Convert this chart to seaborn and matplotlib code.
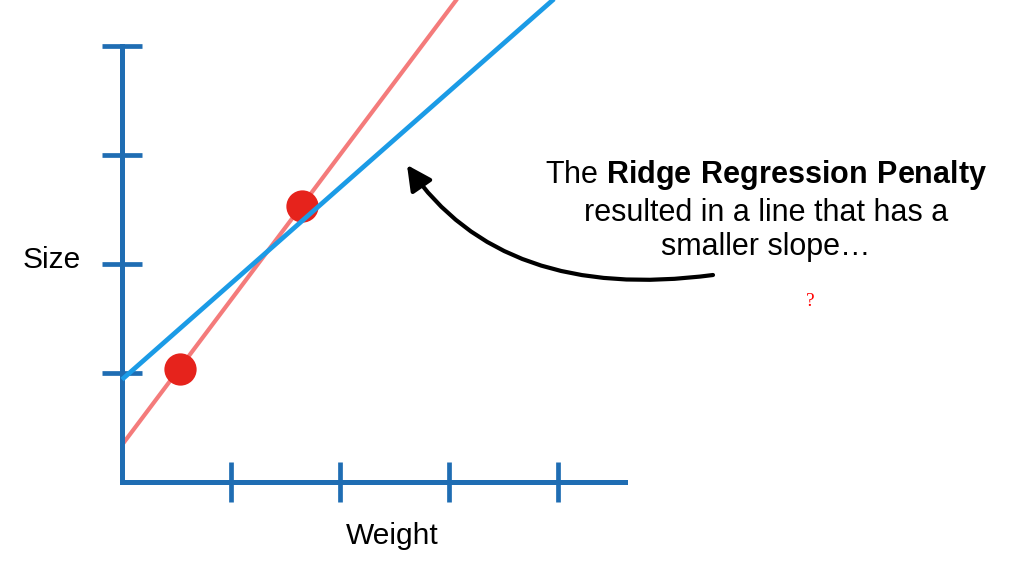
import numpy as np
import pandas as pd
import seaborn as sns
import matplotlib.pyplot as plt
from matplotlib.path import Path
from matplotlib.patches import FancyArrowPatch

# data (1 unit = one tick spacing)
weight_pts = [0.53, 1.65]
size_pts = [1.04, 2.53]
line_weight = [0.0, 4.2]
red_size = [0.34, 5.93]     # least squares line through the two points
blue_size = [0.94, 4.64]    # ridge line, smaller slope
x_ticks = [1, 2, 3, 4]
y_ticks = [1, 2, 3, 4]

axis_col = "#1f6db3"
red_line_col = "#f47b7b"
blue_line_col = "#1b9be6"
dot_col = "#e6231c"

sns.set_style("white")
plt.rcParams['font.family'] = ['Liberation Sans', 'DejaVu Sans']
plt.rcParams['mathtext.fontset'] = 'custom'
plt.rcParams['mathtext.rm'] = 'Liberation Sans'
plt.rcParams['mathtext.bf'] = 'Liberation Sans:bold'

fig = plt.figure(figsize=(10.09, 5.69), dpi=100)
ax = fig.add_axes([122/1009, 87/569, 503/1009, 436/569])

df_red = pd.DataFrame({"Weight": line_weight, "Size": red_size})
df_blue = pd.DataFrame({"Weight": line_weight, "Size": blue_size})
df_pts = pd.DataFrame({"Weight": weight_pts, "Size": size_pts})

sns.lineplot(data=df_red, x="Weight", y="Size", color=red_line_col, lw=3.0,
             clip_on=False, zorder=2, solid_capstyle='butt', ax=ax)
sns.scatterplot(data=df_pts, x="Weight", y="Size", color=dot_col, s=540,
                linewidth=0, clip_on=False, zorder=3, ax=ax)
sns.lineplot(data=df_blue, x="Weight", y="Size", color=blue_line_col, lw=3.4,
             clip_on=False, zorder=4, solid_capstyle='butt', ax=ax)

ax.set_xlim(0, 503/109)
ax.set_ylim(0, 4)
ax.set_xticks(x_ticks)
ax.set_yticks(y_ticks)
ax.set_xticklabels([])
ax.set_yticklabels([])
for s in ["top", "right"]:
    ax.spines[s].set_visible(False)
for s in ["left", "bottom"]:
    ax.spines[s].set_color(axis_col)
    ax.spines[s].set_linewidth(3.6)
ax.tick_params(left=True, bottom=True, direction='inout', length=29, width=3.4,
               color=axis_col)

ax.set_xlabel("Weight", fontsize=21.5, color="black")
ax.xaxis.set_label_coords(0.537, -0.091)
ax.set_ylabel("Size", fontsize=21.5, color="black", rotation=0, ha='center', va='center')
ax.yaxis.set_label_coords(-0.139, 0.51)

# annotation text
fig.text(766/1009, 1 - 175/569, r"The $\bf{Ridge\ Regression\ Penalty}$",
         fontsize=22, ha='center', va='center', color="black")
fig.text(766/1009, 1 - 213/569, "resulted in a line that has a",
         fontsize=22, ha='center', va='center', color="black")
fig.text(766/1009, 1 - 247/569, "smaller slope\u2026",
         fontsize=22, ha='center', va='center', color="black")
fig.text(810/1009, 1 - 301/569, "?", fontsize=14, ha='center', va='center',
         color="red", family=['Liberation Serif', 'DejaVu Serif'])

# curved arrow (quadratic bezier, figure pixel coords, y up)
p0 = (713, 569 - 275)
c = (502, 569 - 303)
p2 = (407, 569 - 165)
arrow_path = Path([p0, c, p2], [Path.MOVETO, Path.CURVE3, Path.CURVE3])
arr = FancyArrowPatch(path=arrow_path, arrowstyle="-|>,head_length=0.75,head_width=0.38",
                      color="black", lw=3.0, transform=None, mutation_scale=20)
fig.patches.append(arr)

plt.savefig("out.png", dpi=100)
